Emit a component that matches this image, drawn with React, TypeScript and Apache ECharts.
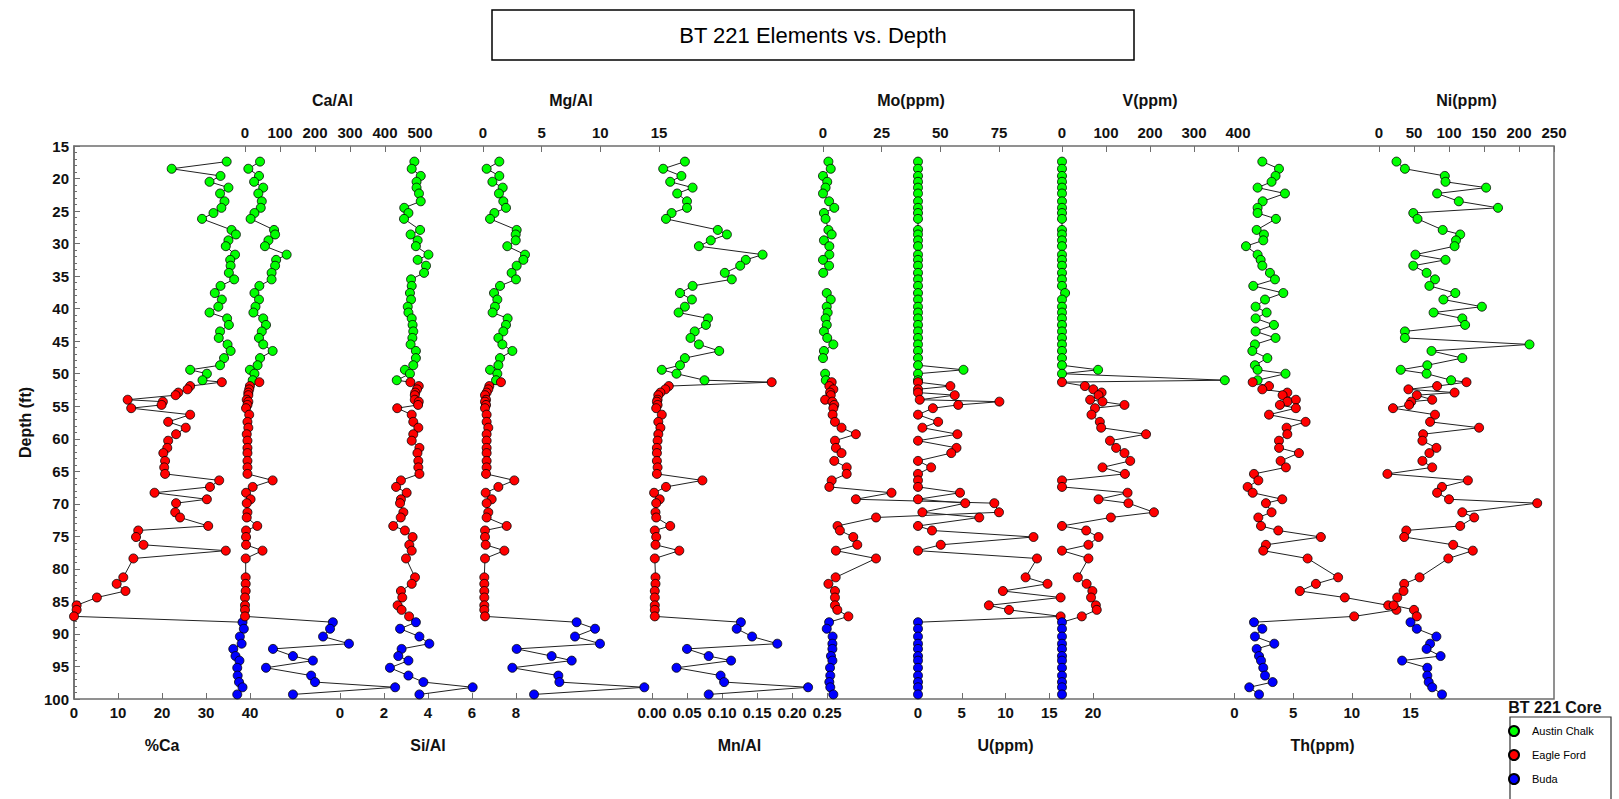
import React, { useEffect, useRef } from "react";
import * as echarts from "echarts";

// ---- depths (ft) of each formation's samples ----
const depthAustin = [17.4, 18.5, 19.6, 20.5, 21.4, 22.3, 23.5, 24.5, 25.3, 26.2, 27.9, 28.6, 29.5, 30.4, 31.7, 32.5, 33.4, 34.5, 35.5, 36.5, 37.6, 38.6, 39.7, 40.6, 41.5, 42.5, 43.5, 44.5, 45.5, 46.5, 47.6, 48.7, 49.4, 50.0, 51.0];
const depthEagle = [51.3, 51.9, 52.4, 52.9, 53.3, 54.0, 54.3, 54.8, 55.3, 56.3, 57.4, 58.3, 59.3, 60.3, 61.4, 62.2, 63.4, 64.4, 65.4, 66.4, 67.4, 68.3, 69.3, 69.9, 71.3, 72.1, 73.4, 74.1, 75.1, 76.3, 77.2, 78.4, 81.3, 82.3, 83.4, 84.4, 85.6, 86.3, 87.3];
const depthBuda = [88.2, 89.2, 90.4, 91.5, 92.3, 93.4, 94.1, 95.2, 96.4, 97.4, 98.2, 99.3];

// ---- %Ca ----
const caPctAustin = [34.7, 22.2, 33.3, 30.8, 35.1, 33.2, 34.2, 33.5, 31.7, 29.1, 35.8, 36.8, 35.1, 34.5, 36.6, 35.5, 35.6, 35.2, 36.4, 33.3, 32.0, 33.6, 32.8, 30.8, 34.8, 35.2, 33.2, 32.9, 34.9, 35.6, 34.1, 33.2, 26.4, 30.2, 29.2];
const caPctEagle = [33.6, 26.4, 25.8, 23.7, 23.1, 12.2, 20.2, 19.9, 13.0, 26.4, 21.4, 25.4, 23.2, 21.4, 21.2, 20.3, 20.7, 20.5, 20.7, 33.0, 30.9, 18.3, 30.2, 23.2, 23.0, 24.1, 30.5, 14.6, 14.1, 15.8, 34.5, 13.5, 11.2, 9.7, 11.7, 5.2, 0.6, 0.6, 0];
const caPctBuda = [38.3, 38.6, 37.7, 38.1, 36.2, 36.7, 37.6, 37.1, 37.2, 37.5, 38.3, 37.1];

// ---- Ca/Al ----
const caAlAustin = [43, 9.5, 40, 26, 52, 38, 48, 45, 27, 16, 83, 86, 67, 57, 119, 89, 86, 76, 76, 41, 27, 40, 30, 24, 52, 60, 48, 40, 52, 79, 43, 36, 14, 27, 22];
const caAlEagle = [41, 14, 12, 9.5, 9.5, 5, 9.5, 7, 3, 12, 7, 9.5, 5, 7, 7, 7, 7, 7, 7, 79, 22, 3, 16, 5, 7, 5, 35, 3, 3, 3, 50, 2, 2, 2, 2, 0, 0, 0, 0];
const caAlBuda = [251, 243, 223, 297, 80, 137, 194, 60, 189, 200, 429, 137];

// ---- Si/Al ----
const siAlAustin = [3.38, 3.26, 3.67, 3.48, 3.48, 3.59, 3.67, 2.92, 3.11, 2.91, 3.64, 3.21, 3.53, 3.45, 4.02, 3.53, 3.91, 3.82, 3.23, 3.26, 3.18, 3.23, 3.08, 3.11, 3.26, 3.30, 3.33, 3.29, 3.21, 3.45, 3.45, 3.33, 2.95, 3.18, 2.58];
const siAlEagle = [3.2, 3.58, 3.5, 3.42, 3.4, 3.4, 3.58, 3.55, 2.6, 3.26, 3.33, 3.56, 3.33, 3.26, 3.61, 3.52, 3.56, 3.56, 3.61, 2.77, 2.55, 3.03, 2.77, 2.73, 2.88, 2.76, 2.42, 2.95, 3.3, 3.15, 3.26, 3.0, 3.41, 3.26, 2.77, 2.83, 2.62, 2.8, 3.14];
const siAlBuda = [3.45, 2.73, 3.61, 4.06, 2.8, 2.65, 3.11, 2.27, 3.11, 3.79, 6.03, 3.61];

// ---- Mg/Al ----
const mgAlAustin = [1.39, 0.31, 1.39, 0.80, 1.68, 1.36, 1.73, 1.96, 0.97, 0.60, 2.87, 2.79, 2.79, 2.07, 3.58, 3.44, 2.87, 2.44, 2.81, 1.45, 0.94, 1.22, 1.02, 0.82, 2.10, 1.96, 1.73, 1.31, 1.65, 2.50, 1.45, 1.31, 0.60, 1.22, 1.11];
const mgAlEagle = [1.53, 0.54, 0.45, 0.31, 0.17, 0.26, 0.17, 0.26, 0.17, 0.31, 0.31, 0.45, 0.31, 0.31, 0.31, 0.31, 0.31, 0.31, 0.26, 2.67, 1.31, 0.23, 0.74, 0.31, 0.45, 0.31, 2.02, 0.17, 0.17, 0.23, 1.82, 0.17, 0.11, 0.11, 0.11, 0.11, 0.11, 0.11, 0.17];
const mgAlBuda = [7.98, 9.55, 7.84, 9.97, 2.87, 5.85, 7.56, 2.5, 6.42, 6.51, 13.75, 4.35];

// ---- Mn/Al ----
const mnAlAustin = [0.047, 0.016, 0.042, 0.026, 0.058, 0.036, 0.050, 0.050, 0.028, 0.020, 0.094, 0.107, 0.084, 0.067, 0.158, 0.134, 0.126, 0.104, 0.114, 0.058, 0.040, 0.057, 0.047, 0.038, 0.080, 0.077, 0.061, 0.055, 0.067, 0.096, 0.047, 0.040, 0.014, 0.035, 0.075];
const mnAlEagle = [0.171, 0.024, 0.019, 0.012, 0.009, 0.008, 0.007, 0.008, 0.006, 0.014, 0.009, 0.012, 0.009, 0.008, 0.007, 0.007, 0.007, 0.008, 0.007, 0.072, 0.020, 0.003, 0.011, 0.006, 0.005, 0.006, 0.026, 0.004, 0.006, 0.005, 0.039, 0.004, 0.005, 0.005, 0.004, 0.004, 0.004, 0.004, 0.004];
const mnAlBuda = [0.127, 0.121, 0.143, 0.179, 0.05, 0.081, 0.113, 0.035, 0.098, 0.103, 0.223, 0.081];

// ---- Mo (ppm); null = not measured ----
const moAustin = [2.3, 3.3, 0, 1.8, 1.1, 0, 2.6, 4.8, 0.4, 1.1, 2.3, 3.7, 0.4, 2.7, 2.7, 0, 2.6, 0.1, null, null, 1.6, 3.3, 1.6, 2.0, 1.1, 1.6, 0.4, 1.8, 4.4, 0.4, 0, null, null, 0.9, 1.2];
const moEagle = [3.7, 2.7, 4.4, 3.0, 3.3, 0.9, 4.0, 4.8, 4.4, 4.1, 5.1, 7.9, 14.0, 5.1, 5.5, 7.9, 4.8, 10.1, 10.1, 3.7, 2.7, 29.2, 14.0, 73, 75, 22.6, 6.2, 7.2, 12.9, 14.6, 5.5, 22.6, 5.4, 2.3, 5.1, 5.1, 5.1, 6.1, 10.8];
const moBuda = [2.6, 1.6, 4.1, 4.0, 4.0, 3.4, 4.0, 3.0, 3.1, 2.7, 3.1, 4.4];

// ---- U (ppm) ----
const uAustin = [0, 0, 0, 0, 0, 0, 0, 0, 0, 0, 0, 0, 0, 0, 0, 0, 0, 0, 0, 0, 0, 0, 0, 0, 0, 0, 0, 0, 0, 0, 0, 0, 5.2, 0, 0];
const uEagle = [0, 3.7, 0, 0, 4.2, 0.2, 9.3, 4.6, 1.7, 0, 2.3, 0.5, 4.5, 0, 4.4, 3.8, 0, 1.5, 0, 0, 0, 4.8, 0, 5.4, 0.5, 7.0, 0, 1.6, 13.2, 2.6, 0, 13.6, 12.3, 14.8, 9.7, 16.3, 8.1, 10.4, 16.3];
const uBuda = [0, 0, 0, 0, 0, 0, 0, 0, 0, 0, 0, 0];

// ---- V (ppm) ----
const vAustin = [0, 0, 0, 0, 0, 0, 0, 0, 0, 0, 0, 0, 0, 0, 0, 0, 0, 0, 0, 0, 7, 0, 0, 0, 0, 0, 0, 0, 0, 0, 0, 0, 82, 0, 370];
const vEagle = [0, 52, 71, 90, 83, 64, 92, 142, 75, 67, 86, 89, 191, 109, 123, 142, 155, 92, 143, 0, 0, 149, 83, 151, 209, 111, 0, 55, 83, 60, 0, 60, 36, 56, 69, 66, 77, 79, 45];
const vBuda = [0, 0, 0, 0, 0, 0, 0, 0, 0, 0, 0, 0];

// ---- Th (ppm) ----
const thAustin = [2.37, 3.79, 3.5, 3.16, 1.97, 4.3, 2.4, 1.97, 1.97, 3.53, 1.89, 2.51, 2.45, 0.98, 1.97, 2.23, 2.37, 3.02, 3.45, 1.6, 4.16, 2.6, 1.8, 2.74, 1.8, 3.36, 1.8, 3.5, 1.74, 1.52, 2.8, 1.74, 1.97, 4.35, 1.97];
const thEagle = [1.55, 2.94, 2.37, 4.5, 4.1, 5.23, 4.5, 3.87, 5.23, 2.94, 6.06, 4.44, 4.5, 3.79, 3.8, 5.49, 3.93, 4.38, 1.66, 2.03, 1.12, 1.55, 4.07, 2.68, 3.16, 2.03, 2.26, 3.73, 7.36, 2.68, 2.45, 6.23, 8.83, 6.94, 5.57, 9.4, 13.1, 13.8, 10.2];
const thBuda = [1.66, 2.37, 1.74, 3.39, 1.89, 2.09, 2.26, 2.45, 2.6, 3.25, 1.26, 2.09];

// ---- Ni (ppm) ----
const niAustin = [25, 37, 94, 95, 153, 83, 114, 170, 49, 55, 91, 116, 110, 108, 52, 95, 49, 68, 80, 72, 109, 92, 147, 78, 119, 123, 37, 37, 215, 75, 119, 69, 31, 68, 103];
const niEagle = [125, 83, 42, 108, 54, 76, 46, 43, 20, 80, 73, 143, 63, 62, 82, 72, 62, 76, 12, 127, 90, 83, 100, 226, 119, 136, 116, 39, 36, 106, 134, 99, 58, 36, 35, 26, 21, 50, 54];
const niBuda = [45, 54, 82, 73, 68, 88, 33, 69, 69, 71, 76, 90];

const formations = ["Austin Chalk", "Eagle Ford", "Buda"];
const formationDepths = [depthAustin, depthEagle, depthBuda];
const formationColors = ["#00ff00", "#ff0000", "#0000ff"];

type Side = "top" | "bottom";
type Profile = {
  title: string;
  side: Side;
  min: number;
  max: number; // axis extent (ticks run to here)
  labelMax: number; // last labelled value
  step: number;
  decimals: number;
  values: (number | null)[][];
};

const profiles: Profile[] = [
  { title: "%Ca", side: "bottom", min: 0, max: 50, labelMax: 40, step: 10, decimals: 0, values: [caPctAustin, caPctEagle, caPctBuda] },
  { title: "Ca/Al", side: "top", min: 0, max: 500, labelMax: 500, step: 100, decimals: 0, values: [caAlAustin, caAlEagle, caAlBuda] },
  { title: "Si/Al", side: "bottom", min: 0, max: 8, labelMax: 8, step: 2, decimals: 0, values: [siAlAustin, siAlEagle, siAlBuda] },
  { title: "Mg/Al", side: "top", min: 0, max: 15, labelMax: 15, step: 5, decimals: 0, values: [mgAlAustin, mgAlEagle, mgAlBuda] },
  { title: "Mn/Al", side: "bottom", min: 0, max: 0.25, labelMax: 0.25, step: 0.05, decimals: 2, values: [mnAlAustin, mnAlEagle, mnAlBuda] },
  { title: "Mo(ppm)", side: "top", min: 0, max: 75, labelMax: 75, step: 25, decimals: 0, values: [moAustin, moEagle, moBuda] },
  { title: "U(ppm)", side: "bottom", min: 0, max: 20, labelMax: 20, step: 5, decimals: 0, values: [uAustin, uEagle, uBuda] },
  { title: "V(ppm)", side: "top", min: 0, max: 400, labelMax: 400, step: 100, decimals: 0, values: [vAustin, vEagle, vBuda] },
  { title: "Th(ppm)", side: "bottom", min: 0, max: 15, labelMax: 15, step: 5, decimals: 0, values: [thAustin, thEagle, thBuda] },
  { title: "Ni(ppm)", side: "top", min: 0, max: 250, labelMax: 250, step: 50, decimals: 0, values: [niAustin, niEagle, niBuda] },
];

// pixel placement of each profile's own scale inside the shared frame
const profileLeft = [74, 245, 340, 483, 652, 823, 918, 1062, 1234.5, 1379];
const profileSpan = [220, 175, 176, 176, 175, 176, 175, 176, 176, 175];

const FRAME = { left: 74, top: 146, width: 1480, height: 553 };
const FONT = "'Liberation Sans', Arial, Helvetica, sans-serif";
const AXIS_GRAY = "#6e6e6e";

function buildOption() {
  const grid: any[] = [
    { ...FRAME, show: true, borderColor: AXIS_GRAY, borderWidth: 1.5, backgroundColor: "transparent" },
  ];
  const xAxis: any[] = [{ gridIndex: 0, type: "value", show: false, min: 0, max: 1 }];
  const yAxis: any[] = [
    {
      gridIndex: 0,
      type: "value",
      inverse: true,
      min: 15,
      max: 100,
      interval: 5,
      name: "Depth (ft)",
      nameLocation: "middle",
      nameGap: 34,
      nameRotate: 90,
      nameTextStyle: { fontFamily: FONT, fontSize: 16, fontWeight: "bold", color: "#111" },
      axisLine: { show: true, lineStyle: { color: AXIS_GRAY, width: 1.5 } },
      axisTick: { show: true, inside: true, length: 6, lineStyle: { color: AXIS_GRAY } },
      minorTick: { show: true, splitNumber: 5, length: 3, lineStyle: { color: AXIS_GRAY } },
      splitLine: { show: false },
      minorSplitLine: { show: false },
      axisLabel: { fontFamily: FONT, fontSize: 15, fontWeight: "bold", color: "#111", margin: 5 },
    },
  ];
  const series: any[] = [];

  profiles.forEach((p, i) => {
    const gi = i + 1;
    grid.push({ left: profileLeft[i], top: FRAME.top, width: profileSpan[i], height: FRAME.height, show: false });
    xAxis.push({
      gridIndex: gi,
      type: "value",
      position: p.side,
      min: p.min,
      max: p.max,
      interval: p.step,
      name: p.title,
      nameLocation: "middle",
      nameGap: 38,
      nameTextStyle: {
        fontFamily: FONT,
        fontSize: 16,
        fontWeight: "bold",
        color: "#111",
        // keep the title centred on the labelled part of the scale
        padding: [0, ((p.max - p.labelMax) / (p.max - p.min)) * profileSpan[i], 0, 0],
      },
      axisLine: { show: false },
      axisTick: { show: true, inside: true, length: 6, lineStyle: { color: AXIS_GRAY } },
      splitLine: { show: false },
      axisLabel: {
        fontFamily: FONT,
        fontSize: 15,
        fontWeight: "bold",
        color: "#111",
        margin: 6,
        showMinLabel: true,
        showMaxLabel: true,
        formatter: (v: number) => (v > p.labelMax + 1e-9 ? "" : v.toFixed(p.decimals)),
      },
    });
    yAxis.push({ gridIndex: gi, type: "value", inverse: true, min: 15, max: 100, show: false });

    // connecting trace through all formations, top to bottom
    const trace: any[] = [];
    p.values.forEach((vals, f) => {
      vals.forEach((v, k) => {
        trace.push(v === null ? ["-", formationDepths[f][k]] : [v, formationDepths[f][k]]);
      });
    });
    series.push({
      type: "line",
      xAxisIndex: gi,
      yAxisIndex: gi,
      data: trace,
      symbol: "none",
      connectNulls: false,
      clip: false,
      silent: true,
      z: 2,
      lineStyle: { color: "#222", width: 1 },
    });

    // coloured sample markers per formation
    p.values.forEach((vals, f) => {
      const pts: number[][] = [];
      vals.forEach((v, k) => {
        if (v !== null) pts.push([v, formationDepths[f][k]]);
      });
      series.push({
        type: "scatter",
        name: formations[f],
        xAxisIndex: gi,
        yAxisIndex: gi,
        data: pts,
        symbol: "circle",
        symbolSize: 9,
        clip: false,
        z: 3,
        itemStyle: { color: formationColors[f], borderColor: "#000", borderWidth: 0.8, opacity: 1 },
      });
    });
  });

  return {
    animation: false,
    backgroundColor: "#ffffff",
    grid,
    xAxis,
    yAxis,
    series,
    legend: {
      data: formations,
      orient: "vertical",
      left: 1508,
      top: 725,
      padding: 0,
      itemWidth: 26,
      itemHeight: 10,
      itemGap: 12,
      icon: "circle",
      symbolKeepAspect: true,
      selectedMode: false,
      textStyle: { fontFamily: FONT, fontSize: 11, color: "#000" },
      z: 5,
    },
    graphic: [
      {
        type: "rect",
        z: 1,
        shape: { x: 492, y: 10, width: 642, height: 50 },
        style: { fill: "#fff", stroke: "#000", lineWidth: 1.5 },
      },
      {
        type: "text",
        z: 2,
        x: 813,
        y: 35,
        style: {
          text: "BT 221 Elements vs. Depth",
          fontFamily: FONT,
          fontSize: 22,
          fill: "#000",
          align: "center",
          verticalAlign: "middle",
        },
      },
      {
        type: "text",
        z: 2,
        x: 1555,
        y: 707,
        style: {
          text: "BT 221 Core",
          fontFamily: FONT,
          fontSize: 16,
          fontWeight: "bold",
          fill: "#111",
          align: "center",
          verticalAlign: "middle",
        },
      },
      {
        type: "rect",
        z: 1,
        shape: { x: 1510, y: 717, width: 101, height: 95 },
        style: { fill: "#fff", stroke: "#333", lineWidth: 1.2 },
      },
    ],
  };
}

export default function App() {
  const ref = useRef<HTMLDivElement>(null);
  useEffect(() => {
    document.body.style.margin = "0";
    document.body.style.overflow = "hidden";
    const chart = echarts.init(ref.current as HTMLDivElement, null, { renderer: "svg" });
    chart.setOption(buildOption() as any);
    return () => chart.dispose();
  }, []);
  return (
    <div
      ref={ref}
      style={{ position: "absolute", left: 0, top: 0, width: 1619, height: 799, background: "#fff" }}
    />
  );
}
